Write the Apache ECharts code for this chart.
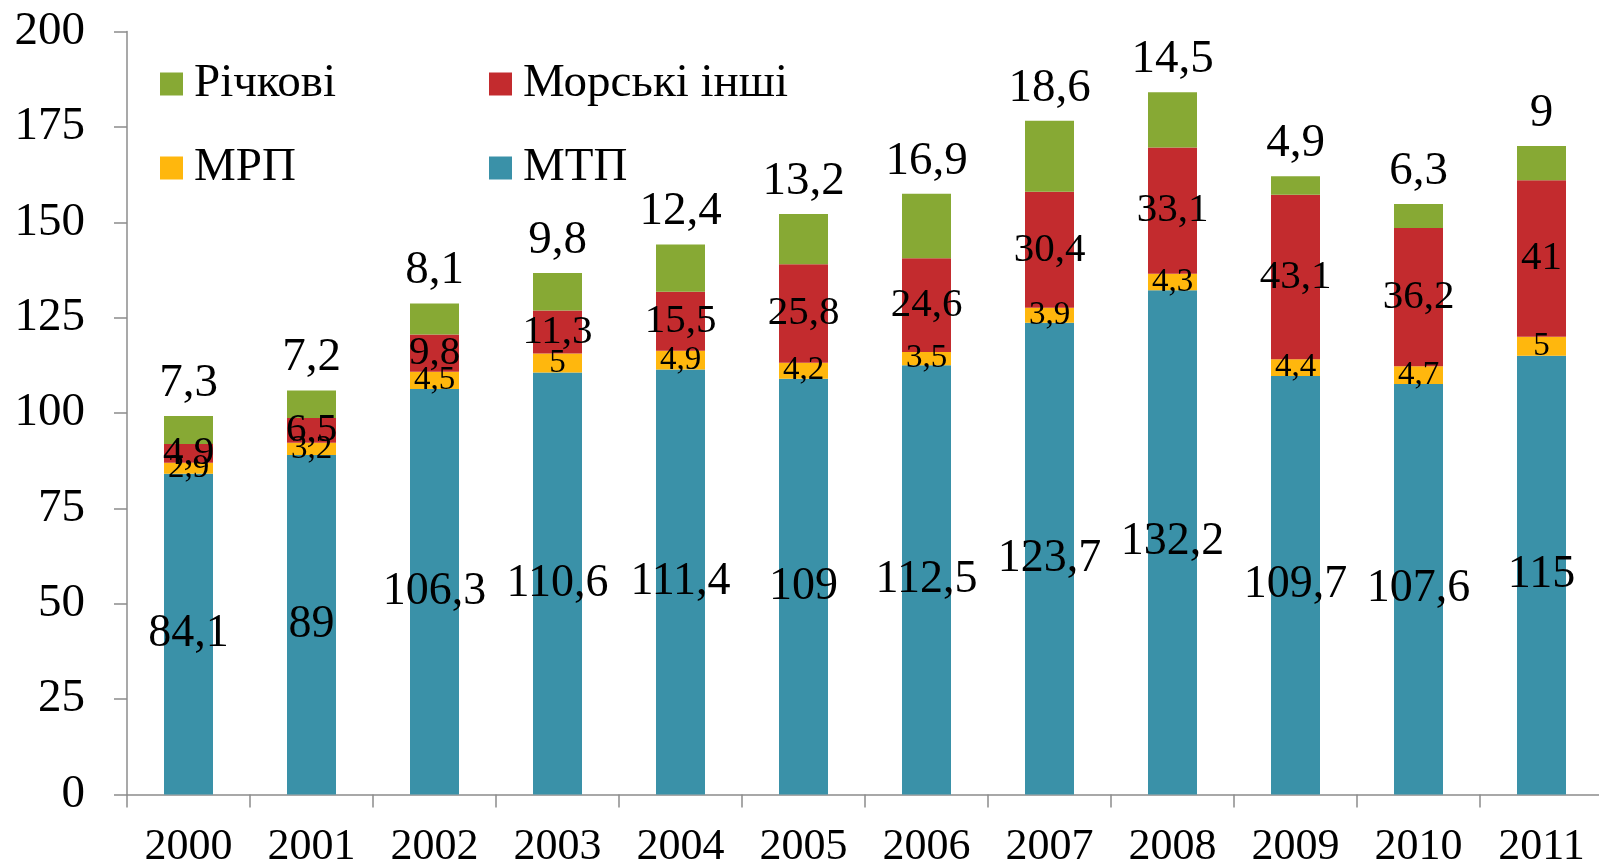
<!DOCTYPE html>
<html>
<head>
<meta charset="utf-8">
<script src="https://cdn.jsdelivr.net/npm/echarts@6/dist/echarts.min.js"></script>
<style>
  html, body { margin: 0; padding: 0; background: #fff; }
  #chart { width: 1599px; height: 865px; }
</style>
</head>
<body>
<div id="chart"></div>
<script>
const years = ['2000','2001','2002','2003','2004','2005','2006','2007','2008','2009','2010','2011'];
const mtp = [84.1, 89, 106.3, 110.6, 111.4, 109, 112.5, 123.7, 132.2, 109.7, 107.6, 115];
const mrp = [2.9, 3.2, 4.5, 5, 4.9, 4.2, 3.5, 3.9, 4.3, 4.4, 4.7, 5];
const morski = [4.9, 6.5, 9.8, 11.3, 15.5, 25.8, 24.6, 30.4, 33.1, 43.1, 36.2, 41];
const richkovi = [7.3, 7.2, 8.1, 9.8, 12.4, 13.2, 16.9, 18.6, 14.5, 4.9, 6.3, 9];
const yTicks = [0, 25, 50, 75, 100, 125, 150, 175, 200];

const FONT = "'Liberation Serif', 'Times New Roman', serif";
const fmt = p => String(p.value).replace('.', ',');

function lbl(size, position, extra) {
  return Object.assign({
    show: true, position: position, formatter: fmt,
    color: '#000', fontFamily: FONT, fontSize: size,
    textBorderWidth: 0
  }, extra || {});
}

const legendText = { fontFamily: FONT, fontSize: 47, color: '#000', lineHeight: 50, padding: [0, 0, 0, 6] };

const chart = echarts.init(document.getElementById('chart'));
chart.setOption({
  animation: false,
  backgroundColor: '#fff',
  grid: { left: 127, right: -4, top: 31.6, bottom: 70.5, containLabel: false, outerBoundsMode: 'none' },
  legend: [
    {
      orient: 'vertical', left: 155, top: 54, itemWidth: 23, itemHeight: 23, itemGap: 34,
      icon: 'rect', data: ['Річкові', 'МРП'], textStyle: legendText
    },
    {
      orient: 'vertical', left: 484, top: 54, itemWidth: 23, itemHeight: 23, itemGap: 34,
      icon: 'rect', data: ['Морські інші', 'МТП'], textStyle: legendText
    }
  ],
  xAxis: {
    type: 'category', data: years,
    axisLine: { lineStyle: { color: '#8c8c8c', width: 1.5 } },
    axisTick: { show: true, length: 13, lineStyle: { color: '#8c8c8c', width: 1.5 } },
    axisLabel: { margin: 31, color: '#000', fontFamily: FONT, fontSize: 44 }
  },
  yAxis: {
    type: 'value', min: 0, max: 200, interval: 25,
    splitLine: { show: false },
    axisLine: { show: true, lineStyle: { color: '#8c8c8c', width: 1.5 } },
    axisTick: { show: true, length: 13, lineStyle: { color: '#8c8c8c', width: 1.5 } },
    axisLabel: {
      margin: 42, color: '#000', fontFamily: FONT, fontSize: 47,
      formatter: v => (yTicks.indexOf(v) >= 0 ? String(v) : '')
    }
  },
  series: [
    {
      name: 'МТП', type: 'bar', stack: 'a', data: mtp, barWidth: 49,
      itemStyle: { color: '#3A91A8' },
      label: lbl(46, 'inside')
    },
    {
      name: 'МРП', type: 'bar', stack: 'a', data: mrp, barWidth: 49,
      itemStyle: { color: '#FFB70D' },
      label: lbl(33, 'inside')
    },
    {
      name: 'Морські інші', type: 'bar', stack: 'a', data: morski, barWidth: 49,
      itemStyle: { color: '#C32B2E' },
      label: lbl(41, 'inside')
    },
    {
      name: 'Річкові', type: 'bar', stack: 'a', data: richkovi, barWidth: 49,
      itemStyle: { color: '#87A934' },
      label: lbl(47, 'top', { distance: 9 })
    }
  ]
});
</script>
</body>
</html>
